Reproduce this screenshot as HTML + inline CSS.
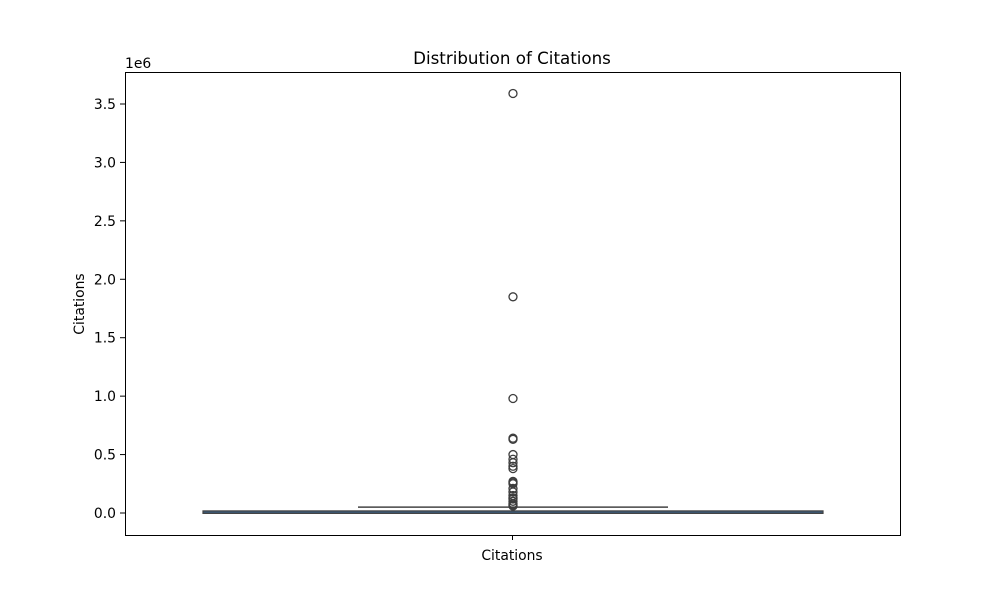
<!DOCTYPE html>
<html><head><meta charset="utf-8"><style>
body{margin:0;background:#fff;font-family:"DejaVu Sans",sans-serif}
</style></head><body>
<svg id="chart" width="1000" height="600" viewBox="0 0 1000 600" font-family="DejaVu Sans, sans-serif">
<rect width="1000" height="600" fill="#fff"/>
<text x="512" y="64" font-size="16.7" text-anchor="middle">Distribution of Citations</text>
<text x="125" y="68" font-size="13.9">1e6</text>
<text transform="translate(84,304) rotate(-90)" font-size="13.9" text-anchor="middle">Citations</text>
<g id="yticks"></g>
<g id="marks"></g>
<rect x="125.5" y="72.5" width="775" height="463" fill="none" stroke="#000" stroke-width="1"/>
<line x1="512.5" y1="535" x2="512.5" y2="540" stroke="#000"/>
<text x="512" y="560" font-size="13.9" text-anchor="middle">Citations</text>
</svg>
<script>
const yTicks=[0,0.5,1.0,1.5,2.0,2.5,3.0,3.5];
const yTickLabels=["0.0","0.5","1.0","1.5","2.0","2.5","3.0","3.5"];
const boxStats=[0.0,0.002,0.006,0.018,0.05]; // min,q1,median,q3,whisker (millions)
const outliers=[3.59,1.85,0.98,0.64,0.63,0.50,0.46,0.43,0.40,0.38,0.27,0.26,0.25,0.21,0.18,0.15,0.13,0.12,0.10,0.08,0.07,0.06];
const NS="http://www.w3.org/2000/svg";
function y(v){return 513-v*116.86;}
function mk(t,a,p){const e=document.createElementNS(NS,t);for(const k in a)e.setAttribute(k,a[k]);p.appendChild(e);return e;}
const yt=document.getElementById('yticks');
yTicks.forEach((v,i)=>{
 const l=mk('line',{x1:120,x2:125,y1:y(v),y2:y(v),stroke:'#000'},yt);
 
 
 const t=mk('text',{x:116,y:y(v)+5,'font-size':13.9,'text-anchor':'end'},yt);
 t.textContent=yTickLabels[i];
 
 
});
const m=document.getElementById('marks');
const cap=mk('line',{x1:358,x2:668,y1:y(boxStats[4]),y2:y(boxStats[4]),stroke:'#444','stroke-width':1.5},m);


const wl=mk('line',{x1:513,x2:513,y1:y(boxStats[3]),y2:y(boxStats[4]),stroke:'#444','stroke-width':1.5},m);


const boxTop=Math.min(y(boxStats[3]),511);
const box=mk('rect',{x:203,y:boxTop,width:620,height:Math.max(y(boxStats[1])-boxTop,2.5),fill:'#3a5a78',stroke:'#444','stroke-width':1.2},m);


outliers.forEach(v=>{
 const c=mk('circle',{cx:513,cy:y(v),r:4,fill:'none',stroke:'#3d3d3d','stroke-width':1.3},m);
 
 
});
</script>
</body></html>
